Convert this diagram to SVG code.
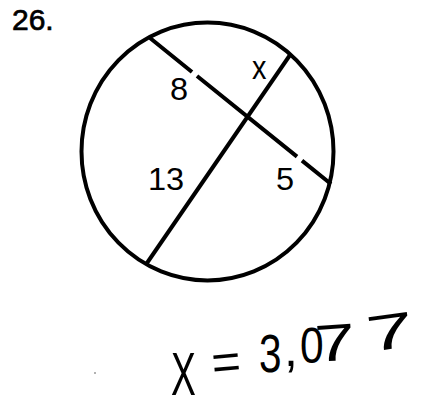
<svg xmlns="http://www.w3.org/2000/svg" width="427" height="399" viewBox="0 0 427 399">
<style>
.lbl{font-family:"Liberation Sans",Arial,sans-serif;fill:#000;}
.ln{stroke:#000;stroke-width:4;fill:none;stroke-linecap:butt;}
.hw{font-family:"Liberation Sans",Arial,sans-serif;fill:#000;}
</style>
<rect width="427" height="399" fill="#fff"/>
<text class="lbl" x="12" y="30" font-size="30" stroke="#000" stroke-width="0.7">26.</text>
<g id="circle">
<ellipse class="ln" cx="207.5" cy="151.5" rx="126" ry="129"/>
</g>
<g id="connectors">
<path class="ln" d="M150,38 L192,72 M197,76 L297,156.6 M302,160.6 L331,184"/>
<path class="ln" d="M290,55 L147,263"/>
</g>
<g id="labels">
<text class="lbl" font-size="31" transform="translate(170,100) scale(1.05,1)">8</text>
<text class="lbl" font-size="34" transform="translate(252,79) scale(0.85,1)">x</text>
<text class="lbl" font-size="31" transform="translate(148,190) scale(1.05,1)">13</text>
<text class="lbl" font-size="31" transform="translate(276,190) scale(1.05,1)">5</text>
</g>
<g id="answer">
<text class="hw" font-size="62" transform="translate(171,395) scale(0.6,1)">X</text>
<text class="hw" font-size="50" transform="translate(213,380) rotate(-5)">=</text>
<text class="hw" font-size="54" transform="translate(259,372) scale(0.75,1)">3</text>
<text class="hw" font-size="50" transform="translate(284,366)">,</text>
<text class="hw" font-size="50" transform="translate(300,363) scale(0.85,1)">0</text>
<text class="hw" font-size="52" transform="translate(316,362) rotate(-4) scale(1.4,1)">7</text>
<text class="hw" font-size="50" transform="translate(369,352) rotate(-8) scale(1.7,1)">7</text>
<circle cx="95" cy="373" r="1" fill="#999"/>
</g>
</svg>
